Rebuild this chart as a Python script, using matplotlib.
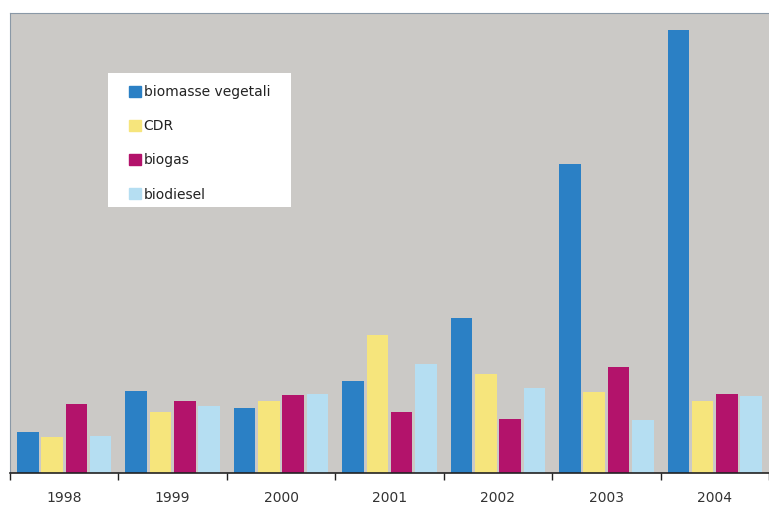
import numpy as np
import matplotlib.pyplot as plt
from matplotlib.patches import Patch, Rectangle

years = ["1998", "1999", "2000", "2001", "2002", "2003", "2004"]
series = ["biomasse vegetali", "CDR", "biogas", "biodiesel"]
biomasse = [41, 82, 65, 92, 155, 309, 443]
cdr = [36, 61, 72, 138, 99, 81, 72]
biogas = [69, 72, 78, 61, 54, 106, 79]
biodiesel = [37, 67, 79, 109, 85, 53, 77]

colors = ["#2b80c5", "#f6e57c", "#b3136b", "#b5def2"]

fig = plt.figure(figsize=(7.69, 5.09), dpi=100)
ax = fig.add_axes([10 / 769, 36 / 509, 759 / 769, 460 / 509])
ax.set_facecolor("#cbc9c6")

x = np.arange(len(years))
width = 0.2
step = 0.224
for i, (vals, c) in enumerate(zip([biomasse, cdr, biogas, biodiesel], colors)):
    ax.bar(x + (i - 1.5) * step, vals, width, color=c, label=series[i])

ax.set_xlim(-0.5, 6.43)
ax.set_ylim(0, 460)

ax.set_xticks(np.arange(-0.5, 7, 1))
ax.set_xticklabels([])
ax.set_xticks(x, minor=True)
ax.set_xticklabels(years, minor=True, fontsize=10, color="#333333")
ax.tick_params(axis="x", which="major", length=5, width=1, direction="out", color="#222222")
ax.tick_params(axis="x", which="minor", length=0, pad=13)
ax.set_yticks([])

ax.spines["bottom"].set_color("#222222")
ax.spines["bottom"].set_linewidth(1.2)
ax.spines["left"].set_color("#8a98a6")
ax.spines["top"].set_color("#8a98a6")
ax.spines["right"].set_visible(False)

# white legend box
ax.add_patch(Rectangle((0.1291, 0.5783), 0.2411, 0.2913, transform=ax.transAxes,
                       facecolor="white", edgecolor="none", zorder=4))

handles = [Patch(color=c) for c in colors]
leg = ax.legend(handles, series, loc="upper left", bbox_to_anchor=(0.1568, 0.843),
                fontsize=10, frameon=False, handlelength=0.85, handleheight=0.85,
                handletextpad=0.2, labelspacing=1.45, borderpad=0,
                borderaxespad=0)
leg.set_zorder(5)
for t in leg.get_texts():
    t.set_color("#222222")

fig.savefig("out.png", dpi=100)
plt.close(fig)
